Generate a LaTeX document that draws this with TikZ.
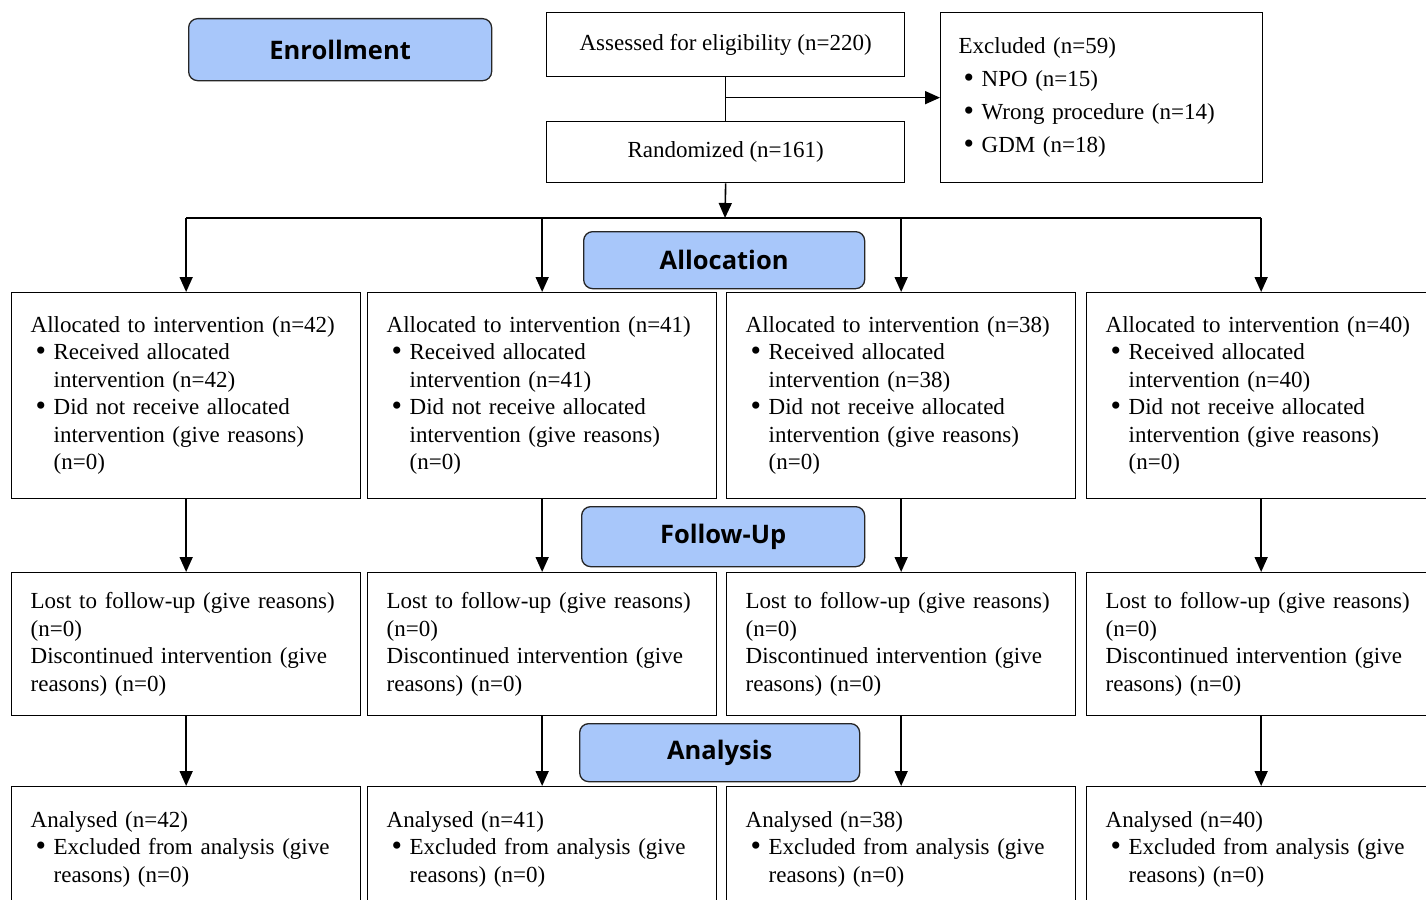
\documentclass[tikz,border=0pt]{standalone}
\usepackage{fontspec}
\setmainfont{Liberation Serif}
\newfontfamily\hdfont{Open Sans}
\usetikzlibrary{arrows.meta}
\definecolor{phaseblue}{RGB}{168,199,250}
\newcommand{\blt}{\makebox[23pt][l]{\hspace{5pt}\raisebox{-1pt}{\scalebox{1.3}{\textbullet}}}}
\newcommand{\hind}{\hspace*{23pt}}
\begin{document}
\begin{tikzpicture}[x=1pt, y=-1pt,
    phase/.style={draw=black!85, line width=1.3pt, rounded corners=9pt, fill=phaseblue,
      anchor=north west, inner sep=0pt, font=\hdfont\bfseries\fontsize{25.5}{28}\selectfont},
    sbox/.style={draw, line width=1.3pt, anchor=north west, inner sep=0pt,
      font=\fontsize{23}{27.5}\selectfont},
    cbox/.style={sbox, align=left, inner xsep=19pt, text width=311pt, minimum width=349pt},
    arr/.style={line width=1.6pt, -{Triangle[length=15pt,width=13pt]}}]
  \useasboundingbox (0,0) rectangle (1426,899);
  \clip (0,0) rectangle (1426,899);

  % enrollment
  \node[phase, minimum width=303pt, minimum height=62pt] (enrol) at (188,18) {Enrollment};
  \node[sbox, minimum width=358pt, minimum height=64pt] (assess) at (546,12) {Assessed for eligibility (n=220)};
  \node[sbox, minimum width=358pt, minimum height=61pt] (rand) at (546,121) {Randomized (n=161)};
  \node[cbox, inner xsep=18pt, text width=286pt, minimum width=322pt, minimum height=170pt,
    font=\fontsize{23}{33}\selectfont] (excl) at (940,12)
    {Excluded (n=59)\\\blt NPO (n=15)\\\blt Wrong procedure (n=14)\\\blt GDM (n=18)};
  \draw[line width=1.6pt] (assess.south) -- (rand.north);
  \draw[arr] (assess.south |- excl.west) -- (excl.west);

  % phases
  \node[phase, minimum width=281pt, minimum height=57pt] (alloc) at (583,231) {Allocation};
  \node[phase, minimum width=283pt, minimum height=60pt] (follow) at (581,506) {Follow-Up};
  \node[phase, minimum width=280pt, minimum height=58pt] (anal) at (579,723) {Analysis};

  \coordinate (bus) at (725,218);
  \draw[arr] (rand.south) -- (bus);

  \foreach \i/\x/\n in {1/11/42, 2/367/41, 3/726/38, 4/1086/40} {
    \node[cbox, minimum height=206pt] (a\i) at (\x,292)
      {Allocated to intervention (n=\n)\\\blt Received allocated\\\hind intervention (n=\n)\\
       \blt Did not receive allocated\\\hind intervention (give reasons)\\\hind (n=0)};
    \node[cbox, minimum height=143pt] (l\i) at (\x,572)
      {Lost to follow-up (give reasons)\\(n=0)\\Discontinued intervention (give\\reasons) (n=0)};
    \node[cbox, minimum height=125pt] (r\i) at (\x,786)
      {Analysed (n=\n)\\\blt Excluded from analysis (give\\\hind reasons) (n=0)};
    \draw[arr] (bus -| a\i.north) -- (a\i.north);
    \draw[arr] (a\i.south) -- (l\i.north);
    \draw[arr] (l\i.south) -- (r\i.north);
  }
  \draw[line width=1.6pt] (bus -| a1.north) -- (bus -| a4.north);
\end{tikzpicture}
\end{document}
